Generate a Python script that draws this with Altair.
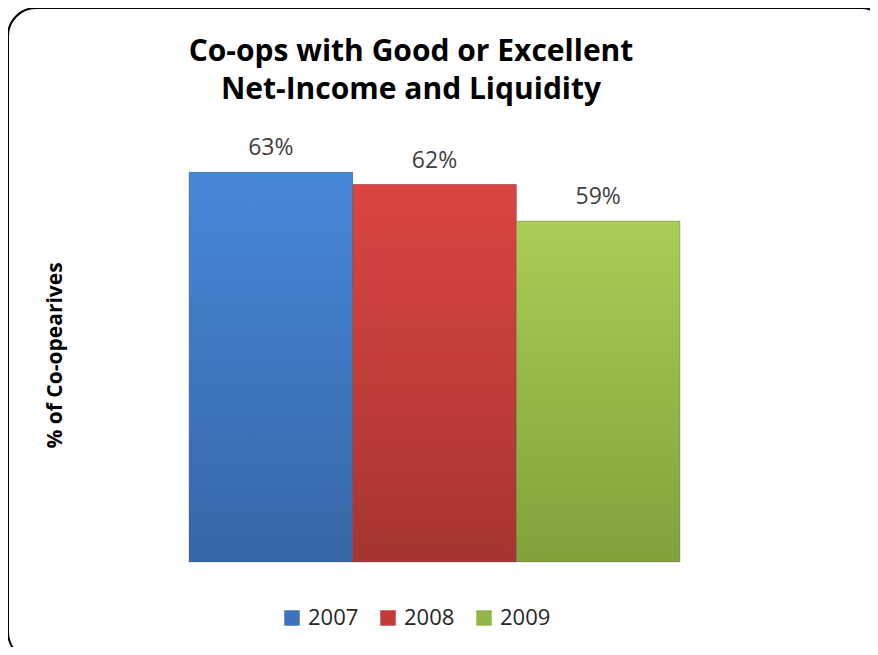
import altair as alt
import pandas as pd

years = ["2007", "2008", "2009"]
values = [63, 62, 59]
labels = ["63%", "62%", "59%"]
legend_colors = ["#3d73ba", "#c23b39", "#93b545"]
top_colors = ["#4688d8", "#dc4541", "#a9cd55"]
bottom_colors = ["#3766a6", "#a6352f", "#7fa33a"]
title_lines = ["Co-ops with Good or Excellent", "Net-Income and Liquidity"]
y_title = "% of Co-opearives"

FONT = "Open Sans"

df = pd.DataFrame({"year": years, "value": values, "label": labels})

x_enc = alt.X("year:N", sort=years, scale=alt.Scale(paddingInner=0, paddingOuter=0), axis=None)
y_scale = alt.Scale(domain=[31, 65], zero=False, nice=False, clamp=True)
y_enc = alt.Y(
    "value:Q",
    scale=y_scale,
    axis=alt.Axis(
        title=y_title, labels=False, ticks=False, domain=False, grid=False,
        titleFont=FONT, titleFontSize=21, titleFontWeight="bold",
        titleColor="black", titlePadding=124,
    ),
)

base = alt.Chart(df).mark_bar().encode(
    x=x_enc,
    y=y_enc,
    color=alt.Color(
        "year:N",
        scale=alt.Scale(domain=years, range=legend_colors),
        legend=alt.Legend(
            title=None, orient="none", legendX=92, legendY=459,
            direction="horizontal", symbolType="square", symbolSize=240,
            symbolStrokeWidth=0, symbolOpacity=1,
            labelFont=FONT, labelFontSize=22, labelColor="#262626",
            columnPadding=18, labelOffset=5,
        ),
    ),
)

overlays = []
for yr, tc, bc in zip(years, top_colors, bottom_colors):
    grad = alt.LinearGradient(
        gradient="linear", x1=0, x2=0, y1=0, y2=1,
        stops=[alt.GradientStop(color=tc, offset=0), alt.GradientStop(color=bc, offset=1)],
    )
    overlays.append(
        alt.Chart(df).transform_filter(alt.datum.year == yr)
        .mark_bar(fill=grad, stroke="#555555", strokeWidth=0.6, strokeOpacity=0.5)
        .encode(x=alt.X("year:N", sort=years), y=alt.Y("value:Q"))
    )

text = alt.Chart(df).mark_text(
    baseline="alphabetic", dy=-17, font=FONT, fontSize=23, color="#404040"
).encode(x=alt.X("year:N", sort=years), y=alt.Y("value:Q"), text="label:N")

one = pd.DataFrame({"k": [0]})
title = alt.Chart(one).mark_text(
    text=title_lines, font=FONT, fontSize=30, fontWeight="bold", color="black",
    align="center", baseline="alphabetic", lineHeight=38,
).encode(x=alt.value(222), y=alt.value(-87))

border = alt.Chart(one).mark_rect(
    fillOpacity=0, stroke="black", strokeWidth=2, cornerRadius=28
).encode(x=alt.value(-181), x2=alt.value(700), y=alt.value(-140), y2=alt.value(512))

chart = alt.layer(border, base, *overlays, text, title).properties(
    width=491, height=414,
    autosize=alt.AutoSizeParams(type="none"),
    padding={"left": 181, "top": 140, "right": 190, "bottom": 85},
    background="white",
).configure_view(stroke=None)

chart.save("out.html", embed_options={"renderer": "svg", "actions": False})
